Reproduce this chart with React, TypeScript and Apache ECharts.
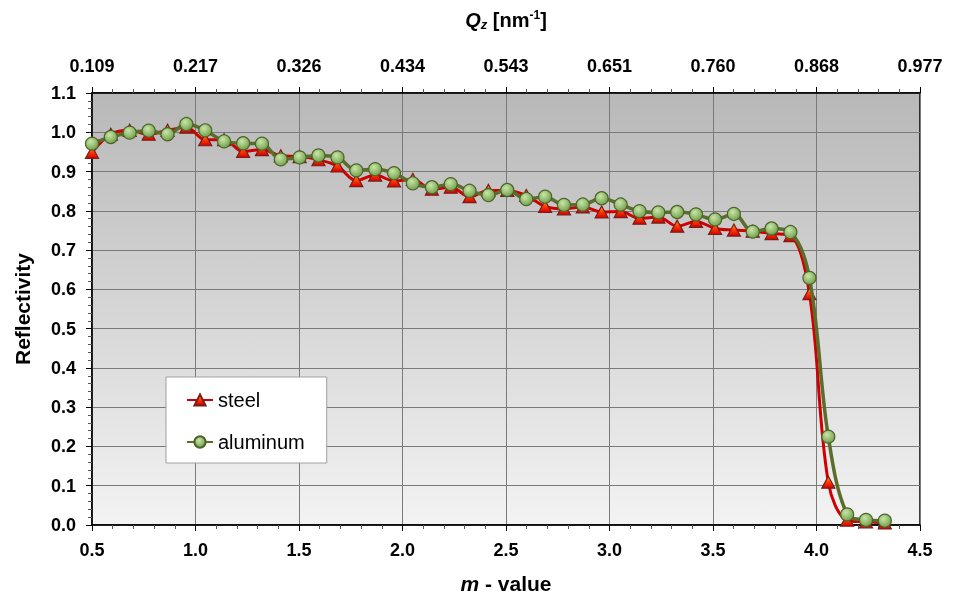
import React, { useEffect, useRef } from "react";
import * as echarts from "echarts";

const mValues = [
  0.5, 0.591, 0.682, 0.774, 0.865, 0.956, 1.047, 1.138, 1.23, 1.321, 1.412,
  1.503, 1.594, 1.686, 1.777, 1.868, 1.959, 2.05, 2.142, 2.233, 2.324, 2.415,
  2.506, 2.598, 2.689, 2.78, 2.871, 2.962, 3.054, 3.145, 3.236, 3.327, 3.418,
  3.51, 3.601, 3.692, 3.783, 3.874, 3.966, 4.057, 4.148, 4.239, 4.33,
];

const steel = [
  0.949, 0.995, 1.005, 0.995, 1.005, 1.013, 0.981, 0.981, 0.951, 0.956, 0.94,
  0.938, 0.93, 0.914, 0.877, 0.891, 0.876, 0.88, 0.855, 0.86, 0.836, 0.852,
  0.852, 0.839, 0.811, 0.805, 0.81, 0.797, 0.798, 0.781, 0.784, 0.761, 0.773,
  0.755, 0.751, 0.748, 0.742, 0.737, 0.589, 0.109, 0.012, 0.008, 0.005,
];

const aluminum = [
  0.971, 0.988, 0.999, 1.004, 0.995, 1.021, 1.005, 0.977, 0.972, 0.971, 0.931,
  0.936, 0.941, 0.936, 0.903, 0.906, 0.896, 0.87, 0.86, 0.868, 0.851, 0.84,
  0.853, 0.83, 0.836, 0.815, 0.816, 0.832, 0.816, 0.799, 0.796, 0.797, 0.791,
  0.778, 0.792, 0.747, 0.755, 0.746, 0.629, 0.225, 0.027, 0.013, 0.011,
];

const qzLabels = [
  "0.109", "0.217", "0.326", "0.434", "0.543", "0.651", "0.760", "0.868", "0.977",
];

const FONT = "'Liberation Sans', Arial, sans-serif";

export default function App() {
  const ref = useRef<HTMLDivElement>(null);

  useEffect(() => {
    if (!ref.current) return;
    const chart = echarts.init(ref.current, undefined, { renderer: "svg" });

    const tickLabel = {
      fontFamily: FONT,
      fontSize: 18,
      fontWeight: "bold" as const,
      color: "#000",
    };
    const axisLine = { show: true, lineStyle: { color: "#000", width: 1.5 } };
    const minorTick = { show: true, splitNumber: 5, length: 4, lineStyle: { color: "#555", width: 1 } };
    const axisTick = { show: true, inside: false, length: 6, lineStyle: { color: "#000", width: 1 } };

    const steelData = mValues.map((m, i) => [m, steel[i]]);
    const aluData = mValues.map((m, i) => [m, aluminum[i]]);

    chart.setOption({
      animation: false,
      textStyle: { fontFamily: FONT },
      grid: {
        left: 92,
        right: 41,
        top: 93,
        bottom: 74,
        show: true,
        borderColor: "#000",
        borderWidth: 1.5,
        backgroundColor: new echarts.graphic.LinearGradient(0, 0, 0, 1, [
          { offset: 0, color: "#b8b8b8" },
          { offset: 1, color: "#f3f3f3" },
        ]),
      },
      legend: {
        orient: "vertical",
        left: 166,
        top: 377,
        padding: [13, 22, 11, 20],
        itemGap: 22,
        itemWidth: 26,
        itemHeight: 14,
        backgroundColor: "#fff",
        borderColor: "#a0a0a0",
        borderWidth: 1,
        textStyle: { fontFamily: FONT, fontSize: 20, color: "#000", lineHeight: 20 },
        data: ["steel", "aluminum"],
      },
      xAxis: [
        {
          type: "value",
          position: "bottom",
          min: 0.5,
          max: 4.5,
          interval: 0.5,
          axisLine,
          axisTick,
          minorTick,
          axisLabel: {
            ...tickLabel,
            margin: 16,
            formatter: (v: number) => v.toFixed(1),
          },
          splitLine: { show: true, lineStyle: { color: "#7a7a7a", width: 1 } },
          name: "{i|m}{b| - value}",
          nameLocation: "middle",
          nameGap: 48,
          nameTextStyle: {
            rich: {
              i: { fontFamily: FONT, fontSize: 21, fontWeight: "bold", fontStyle: "italic", color: "#000" },
              b: { fontFamily: FONT, fontSize: 21, fontWeight: "bold", color: "#000" },
            },
          },
        },
        {
          type: "value",
          position: "top",
          min: 0.5,
          max: 4.5,
          interval: 0.5,
          axisLine,
          axisTick,
          minorTick,
          splitLine: { show: false },
          axisLabel: {
            ...tickLabel,
            margin: 18,
            formatter: (_v: number, idx: number) => qzLabels[idx] ?? "",
          },
          name: "{q|Q}{z|z}{n| [nm}{s|-1}{n|]}",
          nameLocation: "middle",
          nameGap: 62,
          nameTextStyle: {
            rich: {
              q: { fontFamily: FONT, fontSize: 20, fontWeight: "bold", fontStyle: "italic", color: "#000" },
              z: {
                fontFamily: FONT,
                fontSize: 13,
                fontWeight: "bold",
                fontStyle: "italic",
                color: "#000",
                padding: [10, 0, 0, 0],
              },
              n: { fontFamily: FONT, fontSize: 20, fontWeight: "bold", color: "#000" },
              s: {
                fontFamily: FONT,
                fontSize: 12,
                fontWeight: "bold",
                color: "#000",
                padding: [0, 0, 10, 0],
              },
            },
          },
        },
      ],
      yAxis: {
        type: "value",
        min: 0,
        max: 1.1,
        interval: 0.1,
        axisLine,
        axisTick,
        minorTick,
        axisLabel: {
          ...tickLabel,
          margin: 16,
          formatter: (v: number) => v.toFixed(1),
        },
        splitLine: { show: true, lineStyle: { color: "#7a7a7a", width: 1 } },
        name: "Reflectivity",
        nameLocation: "middle",
        nameGap: 59,
        nameTextStyle: { fontFamily: FONT, fontSize: 21, fontWeight: "bold", color: "#000" },
      },
      series: [
        {
          name: "steel",
          type: "line",
          xAxisIndex: 0,
          data: steelData,
          smooth: 0.35,
          symbol: "triangle",
          symbolSize: [13, 12],
          lineStyle: { color: "#d00000", width: 3 },
          itemStyle: {
            color: new echarts.graphic.LinearGradient(0, 0, 0, 1, [
              { offset: 0, color: "#ffae00" },
              { offset: 0.5, color: "#ff3a00" },
              { offset: 1, color: "#d00000" },
            ]),
            borderColor: "#7a1c1c",
            borderWidth: 1.2,
          },
          z: 2,
        },
        {
          name: "aluminum",
          type: "line",
          xAxisIndex: 0,
          data: aluData,
          smooth: 0.35,
          symbol: "circle",
          symbolSize: 13,
          lineStyle: { color: "#5a6d2b", width: 3.5 },
          itemStyle: {
            color: new echarts.graphic.RadialGradient(0.4, 0.35, 0.7, [
              { offset: 0, color: "#c8e6a8" },
              { offset: 1, color: "#6e9c48" },
            ]),
            borderColor: "#4c6428",
            borderWidth: 1.2,
          },
          z: 3,
        },
      ],
    });

    return () => chart.dispose();
  }, []);

  return (
    <div
      ref={ref}
      style={{ position: "fixed", left: 0, top: 0, width: 961, height: 599 }}
    />
  );
}
